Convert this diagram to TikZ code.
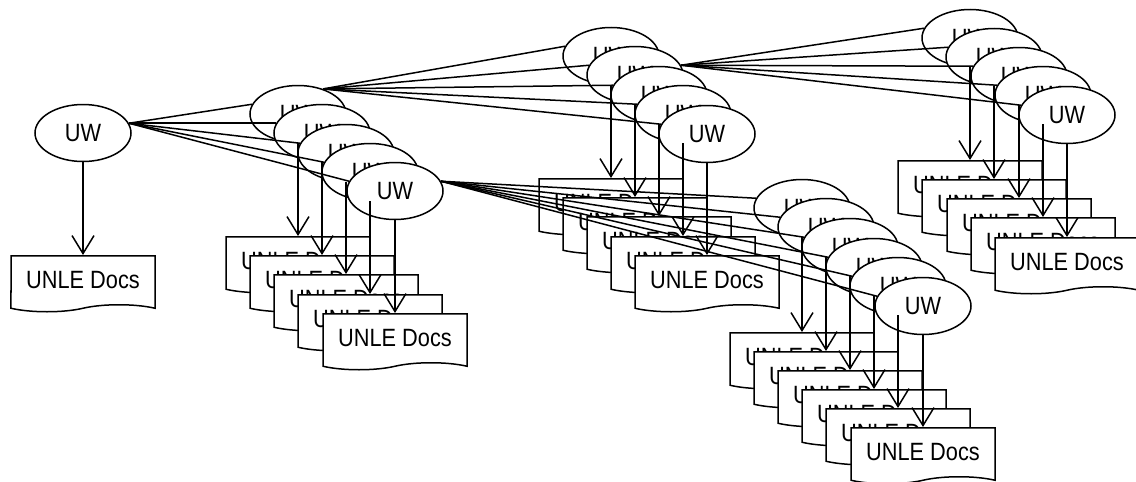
\documentclass[tikz,border=0pt]{standalone}
\usepackage{fontspec}
\setmainfont[FakeStretch=0.87]{Liberation Sans}
\usetikzlibrary{shapes.geometric,shapes.symbols,arrows.meta}

\begin{document}
\begin{tikzpicture}[x=0.5pt, y=-0.5pt, line width=0.75pt,
    >={Straight Barb[length=9pt,width=11pt]},
    uw/.style={ellipse, draw, fill=white, minimum width=48pt, minimum height=28.5pt,
      inner sep=0pt, font=\fontsize{12.5}{14}\selectfont},
    unledoc/.style={tape, tape bend top=none, tape bend height=3.5pt, draw, fill=white,
      minimum width=72pt, minimum height=28pt, inner sep=0pt, anchor=north,
      font=\fontsize{12.5}{14}\selectfont}]
\useasboundingbox (0,0) rectangle (1136,482);

% first level
\draw (83,133) node[uw](r){UW}
    (83,255) node[unledoc](rd){UNLE Docs};

% second level
\draw (298,114) node[uw](a1){UW}
    (322,133) node[uw](a2){UW}
    (346,153) node[uw](a3){UW}
    (370,172) node[uw](a4){UW}
    (395,191) node[uw](a5){UW};
\draw (298,236) node[unledoc](da1){UNLE Docs}
    (322,255) node[unledoc](da2){UNLE Docs}
    (346,274) node[unledoc](da3){UNLE Docs}
    (370,294) node[unledoc](da4){UNLE Docs}
    (395,313) node[unledoc](da5){UNLE Docs};

% third level, under a1
\draw (611,56) node[uw](b1){UW}
    (635,75) node[uw](b2){UW}
    (659,95) node[uw](b3){UW}
    (683,114) node[uw](b4){UW}
    (707,134) node[uw](b5){UW};
\draw (611,178) node[unledoc](db1){UNLE Docs}
    (635,197) node[unledoc](db2){UNLE Docs}
    (659,216) node[unledoc](db3){UNLE Docs}
    (683,236) node[unledoc](db4){UNLE Docs}
    (707,255) node[unledoc](db5){UNLE Docs};

% third level, under a5
\draw (802,208) node[uw](c1){UW}
    (826,227) node[uw](c2){UW}
    (850,247) node[uw](c3){UW}
    (874,267) node[uw](c4){UW}
    (898,286) node[uw](c5){UW}
    (923,306) node[uw](c6){UW};
\draw (802,332) node[unledoc](dc1){UNLE Docs}
    (826,351) node[unledoc](dc2){UNLE Docs}
    (850,370) node[unledoc](dc3){UNLE Docs}
    (874,389) node[unledoc](dc4){UNLE Docs}
    (898,408) node[unledoc](dc5){UNLE Docs}
    (923,427) node[unledoc](dc6){UNLE Docs};

% fourth level, under b2
\draw (970,38) node[uw](e1){UW}
    (994,57) node[uw](e2){UW}
    (1019,76) node[uw](e3){UW}
    (1043,95) node[uw](e4){UW}
    (1067,115) node[uw](e5){UW};
\draw (970,160) node[unledoc](de1){UNLE Docs}
    (994,179) node[unledoc](de2){UNLE Docs}
    (1019,198) node[unledoc](de3){UNLE Docs}
    (1043,217) node[unledoc](de4){UNLE Docs}
    (1067,237) node[unledoc](de5){UNLE Docs};

% links between the UW
\path[-] (r.12) edge (a1.168) edge (a2.168) edge (a3.168) edge (a4.168) edge (a5.168);
\path[-] (a1.45) edge (b1.168) edge (b2.168) edge (b3.168) edge (b4.168) edge (b5.168);
\path[-] (a5.12) edge (c1.168) edge (c2.168) edge (c3.168) edge (c4.168) edge (c5.168) edge (c6.168);
\path[-] (b2.12) edge (e1.168) edge (e2.168) edge (e3.168) edge (e4.168) edge (e5.168);

% arrows to the docs
\path[->] (r.south) edge (rd.north);
\path[->] (a1.south) edge (da1.north);
\path[->] (a2.south) edge (da2.north);
\path[->] (a3.south) edge (da3.north);
\path[->] (a4.south) edge (da4.north);
\path[->] (a5.south) edge (da5.north);
\path[->] (b1.south) edge (db1.north);
\path[->] (b2.south) edge (db2.north);
\path[->] (b3.south) edge (db3.north);
\path[->] (b4.south) edge (db4.north);
\path[->] (b5.south) edge (db5.north);
\path[->] (c1.south) edge (dc1.north);
\path[->] (c2.south) edge (dc2.north);
\path[->] (c3.south) edge (dc3.north);
\path[->] (c4.south) edge (dc4.north);
\path[->] (c5.south) edge (dc5.north);
\path[->] (c6.south) edge (dc6.north);
\path[->] (e1.south) edge (de1.north);
\path[->] (e2.south) edge (de2.north);
\path[->] (e3.south) edge (de3.north);
\path[->] (e4.south) edge (de4.north);
\path[->] (e5.south) edge (de5.north);

\end{tikzpicture}
\end{document}
